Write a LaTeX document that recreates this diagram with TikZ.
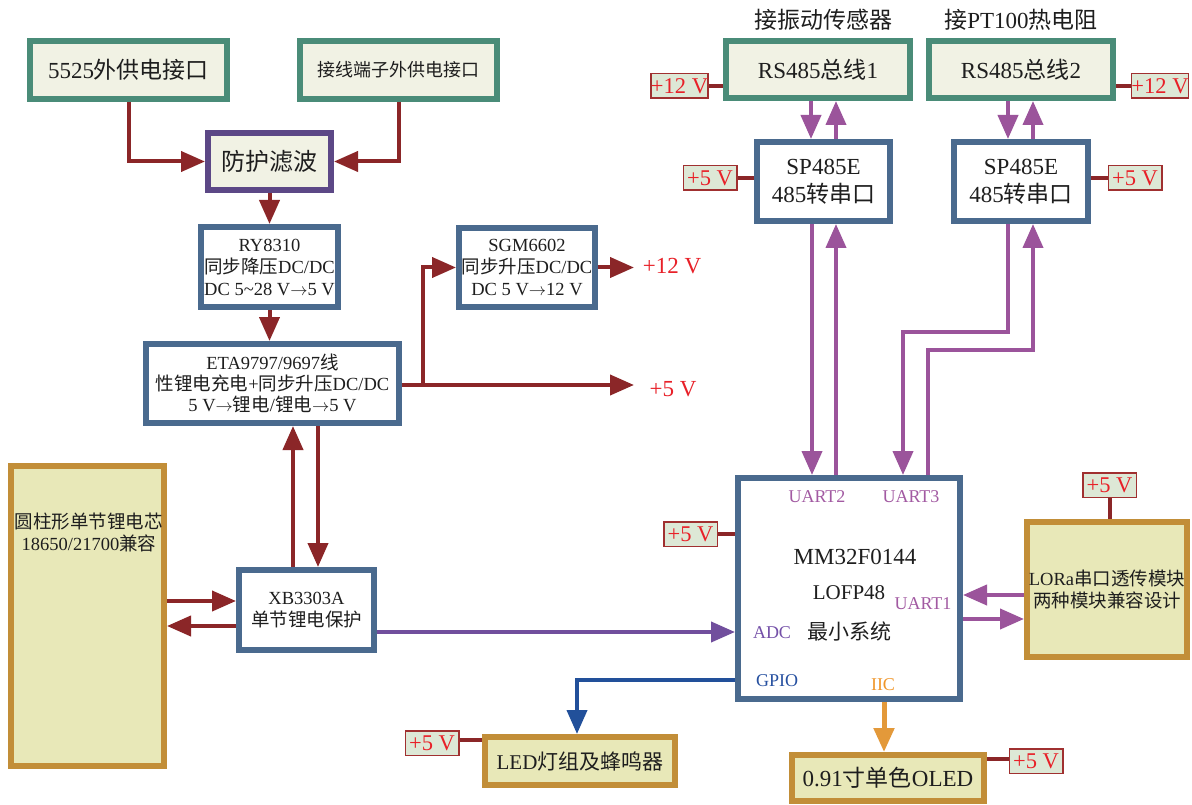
\documentclass[tikz,border=0pt]{standalone}
\usepackage{fontspec}
\setmainfont{Liberation Serif}
\newfontfamily\cjk{Noto Sans CJK SC}
\newcommand\C[1]{{\cjk #1}}
\newcommand\ra{\ensuremath{\rightarrow}}
\usetikzlibrary{arrows.meta}
\definecolor{txt}{HTML}{1E1E1E}
\definecolor{dred}{HTML}{8B2628}
\definecolor{upurple}{HTML}{9B549B}
\definecolor{apurple}{HTML}{714F9D}
\definecolor{gblue}{HTML}{22509A}
\definecolor{iorange}{HTML}{E3993A}
\definecolor{tealB}{HTML}{4A8C78}
\definecolor{tealF}{HTML}{F1F2E4}
\definecolor{purB}{HTML}{5C4886}
\definecolor{bluB}{HTML}{4A6A8E}
\definecolor{golB}{HTML}{C28E38}
\definecolor{golF}{HTML}{E8E8B8}
\definecolor{vF}{HTML}{DDE8D6}
\definecolor{vB}{HTML}{A03030}
\definecolor{vred}{HTML}{E82028}
\definecolor{lUART}{HTML}{A25AA2}
\definecolor{lADC}{HTML}{7450A8}
\definecolor{lGPIO}{HTML}{2650A0}
\definecolor{lIIC}{HTML}{F0962A}
\begin{document}
\begin{tikzpicture}[x=1pt,y=-1pt,
  box/.style={draw, line width=6pt, inner sep=0pt, align=center, text=txt},
  tealbox/.style={box, draw=tealB, fill=tealF},
  purbox/.style={box, draw=purB, fill=tealF},
  blubox/.style={box, draw=bluB, fill=white},
  golbox/.style={box, draw=golB, fill=golF},
  vbox/.style={draw=vB, line width=1.5pt, fill=vF, text=vred, inner sep=0pt,
    font=\fontsize{22.5}{24}\selectfont, minimum width=53.5pt, minimum height=24.5pt},
  fA/.style={font=\fontsize{23}{28}\selectfont},
  fB/.style={font=\fontsize{18.5}{22}\selectfont},
  fC/.style={font=\fontsize{21}{24}\selectfont},
  fD/.style={font=\fontsize{18}{21}\selectfont},
  tip/.style={-{Triangle[length=24pt,width=20pt]}},
  rline/.style={draw=dred, line width=4pt},
  rarr/.style={rline, tip},
  uarr/.style={draw=upurple, line width=4pt, tip},
  plain/.style={inner sep=0pt, text=txt},
]
\useasboundingbox (0,0) rectangle (1192,805);
\fill[white] (0,0) rectangle (1192,805);

% ---- power input ----
\node[tealbox, fA, minimum width=197pt, minimum height=58pt] (p5525) at (128.5,70) {5525\C{外供电接口}};
\node[tealbox, fD, minimum width=197pt, minimum height=58pt] (pterm) at (398.5,70) {\C{接线端子外供电接口}};
\node[purbox, font=\fontsize{24}{28}\selectfont, minimum width=123pt, minimum height=57pt] (filt) at (269.5,161.5) {\C{防护滤波}};
\node[blubox, fB, minimum width=137pt, minimum height=80pt] (ry) at (269.5,267)
  {RY8310\\\C{同步降压}DC/DC\\DC 5{\char"7E}28 V\ra5 V};
\node[blubox, fB, font=\fontsize{18.5}{21}\selectfont, minimum width=253pt, minimum height=79pt] (eta) at (272.5,383.5)
  {ETA9797/9697\C{线}\\\C{性锂电充电}+\C{同步升压}DC/DC\\5 V\ra\C{锂电}/\C{锂电}\ra5 V};
\node[blubox, fB, minimum width=136pt, minimum height=79pt] (sgm) at (527,267.5)
  {SGM6602\\\C{同步升压}DC/DC\\DC 5 V\ra12 V};
\node[golbox, minimum width=153pt, minimum height=300pt] (bat) at (87.5,616) {};
\node[plain, fB, align=center] (battxt) at (89,532) {\C{圆柱形单节锂电芯}\\18650/21700\C{兼容}};
\node[blubox, fB, minimum width=135pt, minimum height=80pt] (xb) at (306.5,610) {XB3303A\\\C{单节锂电保护}};

\node[plain, fA, text=vred] (o12) at (672,266) {+12 V};
\node[plain, fA, text=vred] (o5) at (673,389) {+5 V};
\coordinate (out12) at (634,267.5);
\coordinate (out5) at (634,385);
\coordinate (br) at (423,385);

\draw[rarr] (p5525.south) |- (filt.west);
\draw[rarr] (pterm.south) |- (filt.east);
\draw[rarr] (filt.south) -- (ry.north);
\draw[rarr] (ry.south) -- (ry.south |- eta.north);
\draw[rarr] (eta.east |- br) -- (out5);
\draw[rarr] (br) |- (sgm.west);
\draw[rarr] (sgm.east) -- (out12);
\draw[rarr] (xb.north -| 293,0) -- (eta.south -| 293,0);
\draw[rarr] (eta.south -| 318,0) -- (xb.north -| 318,0);
\draw[rarr] (bat.east |- 0,601) -- (xb.west |- 0,601);
\draw[rarr] (xb.west |- 0,626) -- (bat.east |- 0,626);

% ---- MCU ----
\node[blubox, minimum width=222pt, minimum height=221pt] (mcu) at (849,588.5) {};
\node[plain, fA] (mcuA) at (855,557) {MM32F0144};
\node[plain, fC] (mcuB) at (849,593) {LOFP48};
\node[plain, fC] (mcuC) at (849,631) {\C{最小系统}};
\node[plain, fD, text=lUART] (u2) at (817,497) {UART2};
\node[plain, fD, text=lUART] (u3) at (911,497) {UART3};
\node[plain, fD, text=lUART] (u1) at (923,604) {UART1};
\node[plain, fD, text=lADC] (adc) at (772,633) {ADC};
\node[plain, fD, text=lGPIO] (gpio) at (777,681) {GPIO};
\node[plain, fD, text=lIIC] (iic) at (883,685) {IIC};

% ---- RS485 side ----
\node[plain, fA] (lab1) at (823,20) {\C{接振动传感器}};
\node[plain, fA] (lab2) at (1021,20) {\C{接}PT100\C{热电阻}};
\node[tealbox, fA, minimum width=184pt, minimum height=57pt] (rs1) at (818,69.5) {RS485\C{总线}1};
\node[tealbox, fA, minimum width=184pt, minimum height=57pt] (rs2) at (1021,69.5) {RS485\C{总线}2};
\node[blubox, fA, minimum width=133pt, minimum height=79pt] (sp1) at (823.5,181.5) {SP485E\\485\C{转串口}};
\node[blubox, fA, minimum width=134pt, minimum height=79pt] (sp2) at (1021,181.5) {SP485E\\485\C{转串口}};

\draw[uarr] (rs1.south -| 811,0) -- (sp1.north -| 811,0);
\draw[uarr] (sp1.north -| 836,0) -- (rs1.south -| 836,0);
\draw[uarr] (rs2.south -| 1008,0) -- (sp2.north -| 1008,0);
\draw[uarr] (sp2.north -| 1033,0) -- (rs2.south -| 1033,0);
\draw[uarr] (sp1.south -| 812,0) -- (mcu.north -| 812,0);
\draw[uarr] (mcu.north -| 836,0) -- (sp1.south -| 836,0);
\draw[uarr] (sp2.south -| 1008,0) -- (1008,332) -| (mcu.north -| 903,0);
\draw[uarr] (mcu.north -| 928,0) -- (928,350) -| (sp2.south -| 1033,0);

% ---- peripherals ----
\node[golbox, fB, minimum width=160pt, minimum height=135pt] (lora) at (1107,589.5)
  {LORa\C{串口透传模块}\\\C{两种模块兼容设计}};
\node[golbox, fC, minimum width=190pt, minimum height=48pt] (led) at (580,761) {LED\C{灯组及蜂鸣器}};
\node[golbox, fA, minimum width=192pt, minimum height=46pt] (oled) at (888,778) {0.91\C{寸单色}OLED};

\draw[uarr] (lora.west |- 0,595) -- (mcu.east |- 0,595);
\draw[uarr] (mcu.east |- 0,619) -- (lora.west |- 0,619);
\draw[draw=apurple, line width=4pt, tip] (xb.east |- 0,632) -- (mcu.west |- 0,632);
\draw[draw=gblue, line width=4pt, tip] (mcu.west |- 0,680) -| (led.north -| 577,0);
\draw[draw=iorange, line width=5pt, tip] (mcu.south -| 884,0) -- (oled.north -| 884,0);

% ---- voltage labels ----
\node[vbox] (v12a) at (679.5,86) {+12 V};
\node[vbox] (v12b) at (1160,86) {+12 V};
\node[vbox] (v5a) at (710,178) {+5 V};
\node[vbox] (v5b) at (1135,178) {+5 V};
\node[vbox] (v5m) at (690.5,534) {+5 V};
\node[vbox] (v5l) at (1109.5,485) {+5 V};
\node[vbox] (v5e) at (432,743) {+5 V};
\node[vbox] (v5o) at (1036,761) {+5 V};

\draw[rline] (v12a.east) -- (v12a.east -| rs1.west);
\draw[rline] (rs2.east |- v12b.west) -- (v12b.west);
\draw[rline] (v5a.east) -- (v5a.east -| sp1.west);
\draw[rline] (sp2.east |- v5b.west) -- (v5b.west);
\draw[rline] (v5m.east) -- (v5m.east -| mcu.west);
\draw[rline] (v5l.south) -- (v5l.south |- lora.north);
\draw[rline] (v5e.east |- 0,740) -- (led.west |- 0,740);
\draw[rline] (oled.east |- 0,759) -- (v5o.west |- 0,759);
\end{tikzpicture}
\end{document}
